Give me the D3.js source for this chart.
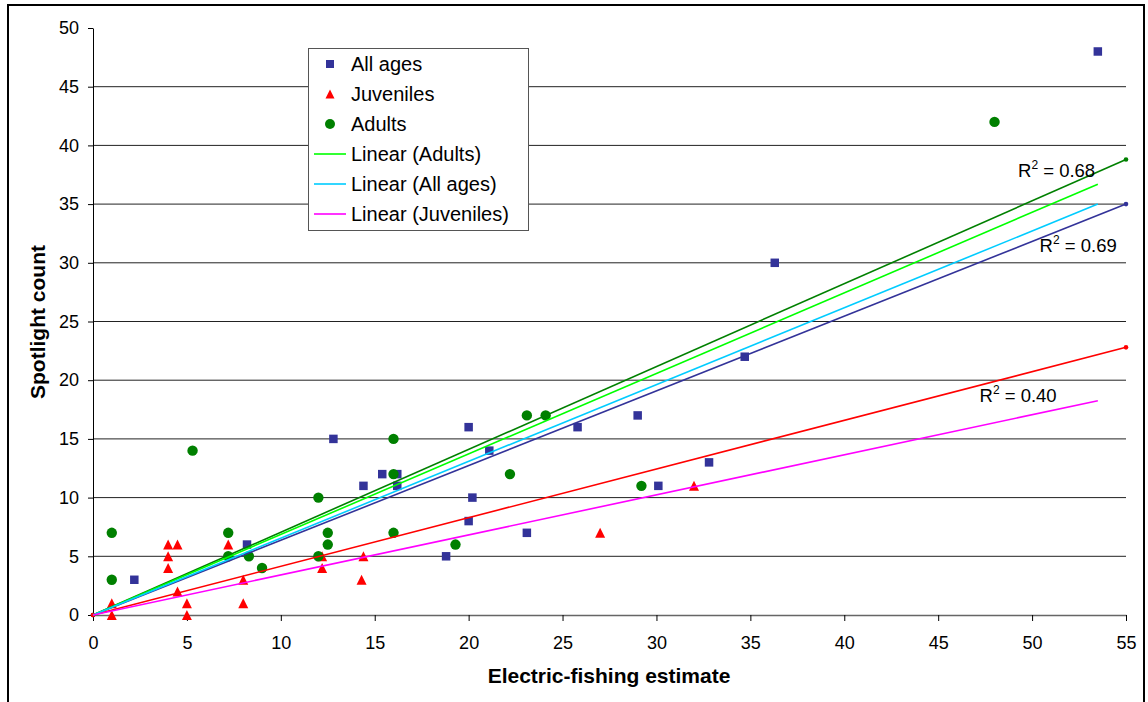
<!DOCTYPE html>
<html>
<head>
<meta charset="utf-8">
<script src="https://cdn.jsdelivr.net/npm/d3@7/dist/d3.min.js"></script>
<style>
  html, body { margin: 0; padding: 0; background: #fff; }
  svg { display: block; font-family: Arial, "Liberation Sans", sans-serif; }
</style>
</head>
<body>
<svg id="chart" width="1148" height="702"></svg>
<script>
// Electric-fishing estimate (x) vs spotlight count (y)
const allAgesX = [2.2, 8.2, 12.8, 14.4, 15.4, 16.2, 16.2, 18.8, 20.0, 20.2, 20.0, 21.1, 23.1, 25.8, 29.0, 30.1, 32.8, 34.7, 36.3, 53.5];
const allAgesY = [3, 6, 15, 11, 12, 12, 11, 5, 16, 10, 8, 14, 7, 16, 17, 11, 13, 22, 30, 48];

const juvenilesX = [1, 1, 4, 4.5, 4, 4, 4.5, 5, 5, 7.2, 8, 8, 12.2, 12.2, 14.4, 14.3, 27, 32];
const juvenilesY = [1, 0, 6, 6, 5, 4, 2, 1, 0, 6, 3, 1, 5, 4, 5, 3, 7, 11];

const adultsX = [1, 1, 5.3, 7.2, 7.2, 8.3, 9.0, 12.0, 12.0, 12.5, 12.5, 16, 16, 16, 19.3, 22.2, 23.1, 24.1, 29.2, 48];
const adultsY = [7, 3, 14, 7, 5, 5, 4, 10, 5, 7, 6, 15, 12, 7, 6, 12, 17, 17, 11, 42];

// Fitted lines, given by their end points [x, y]
const fitAdults = [[0, 0], [55, 38.8]];
const fitAllAges = [[0, 0], [55, 35.0]];
const fitJuveniles = [[0, 0], [55, 22.8]];
const linearAdults = [[0, 0], [53.5, 36.7]];
const linearAllAges = [[0, 0], [53.5, 35.0]];
const linearJuveniles = [[0, 0], [53.5, 18.25]];

const r2Labels = ["0.68", "0.69", "0.40"];
const xTicks = [0, 5, 10, 15, 20, 25, 30, 35, 40, 45, 50, 55];
const yTicks = [0, 5, 10, 15, 20, 25, 30, 35, 40, 45, 50];
const legendLabels = ["All ages", "Juveniles", "Adults", "Linear (Adults)", "Linear (All ages)", "Linear (Juveniles)"];

const svg = d3.select("#chart");
const x = d3.scaleLinear().domain([0, 55]).range([93, 1126]);
const y = d3.scaleLinear().domain([0, 50]).range([615, 28]);

// outer frame
svg.append("rect")
  .attr("x", 8).attr("y", 5).attr("width", 1136).attr("height", 720)
  .attr("fill", "none").attr("stroke", "#000").attr("stroke-width", 2);

// horizontal gridlines
svg.append("g").selectAll("line")
  .data(yTicks.filter(v => v > 0 && v < 50))
  .join("line")
  .attr("x1", x(0)).attr("x2", x(55))
  .attr("y1", d => y(d)).attr("y2", d => y(d))
  .attr("stroke", "#222").attr("stroke-width", 1);

// axes
const xAxis = svg.append("g")
  .attr("transform", `translate(0,${y(0)})`)
  .call(d3.axisBottom(x).tickValues(xTicks).tickSize(6).tickSizeOuter(0).tickPadding(15).tickFormat(d3.format("d")));
xAxis.select(".domain").attr("stroke", "#666").attr("stroke-width", 1.5);
xAxis.selectAll(".tick line").attr("stroke", "#000");
xAxis.selectAll("text").attr("font-size", 18).attr("fill", "#000").attr("font-family", "Arial, 'Liberation Sans', sans-serif");

const yAxis = svg.append("g")
  .attr("transform", `translate(${x(0)},0)`)
  .call(d3.axisLeft(y).tickValues(yTicks).tickSize(5).tickSizeOuter(0).tickPadding(9).tickFormat(d3.format("d")));
yAxis.select(".domain").attr("stroke", "#000").attr("stroke-width", 1);
yAxis.selectAll(".tick line").attr("stroke", "#000");
yAxis.selectAll("text").attr("font-size", 18).attr("fill", "#000").attr("font-family", "Arial, 'Liberation Sans', sans-serif");

// axis titles
svg.append("text")
  .attr("x", 609).attr("y", 683)
  .attr("text-anchor", "middle")
  .attr("font-size", 21).attr("font-weight", "bold")
  .text("Electric-fishing estimate");
svg.append("text")
  .attr("transform", "translate(45,322) rotate(-90)")
  .attr("text-anchor", "middle")
  .attr("font-size", 21).attr("font-weight", "bold")
  .text("Spotlight count");

// marker shapes
const squarePath = (s) => `M${-s / 2},${-s / 2}h${s}v${s}h${-s}Z`;
const trianglePath = (w, h) => `M0,${-h / 2}L${w / 2},${h / 2}L${-w / 2},${h / 2}Z`;

const plot = svg.append("g");

plot.append("g").selectAll("path")
  .data(d3.zip(allAgesX, allAgesY))
  .join("path")
  .attr("transform", d => `translate(${x(d[0])},${y(d[1])})`)
  .attr("d", squarePath(8.5))
  .attr("fill", "#333399");

plot.append("g").selectAll("path")
  .data(d3.zip(juvenilesX, juvenilesY))
  .join("path")
  .attr("transform", d => `translate(${x(d[0])},${y(d[1])})`)
  .attr("d", trianglePath(10, 10))
  .attr("fill", "#ff0000");

plot.append("g").selectAll("circle")
  .data(d3.zip(adultsX, adultsY))
  .join("circle")
  .attr("cx", d => x(d[0])).attr("cy", d => y(d[1]))
  .attr("r", 5.2)
  .attr("fill", "#008000");

// fitted lines
const line = d3.line().x(d => x(d[0])).y(d => y(d[1]));
const fits = [
  { pts: fitAdults, color: "#008000", dots: true },
  { pts: fitAllAges, color: "#333399", dots: true },
  { pts: fitJuveniles, color: "#ff0000", dots: true },
  { pts: linearAdults, color: "#00ff00", dots: false },
  { pts: linearAllAges, color: "#00ccff", dots: false },
  { pts: linearJuveniles, color: "#ff00ff", dots: false }
];
fits.forEach(f => {
  plot.append("path")
    .attr("d", line(f.pts))
    .attr("fill", "none")
    .attr("stroke", f.color)
    .attr("stroke-width", 1.6);
  if (f.dots) {
    plot.append("g").selectAll("circle")
      .data(f.pts)
      .join("circle")
      .attr("cx", d => x(d[0])).attr("cy", d => y(d[1]))
      .attr("r", 2.3)
      .attr("fill", f.color);
  }
});

// R² annotations
const r2Pos = [[49.25, 37.3], [50.4, 30.9], [47.2, 18.13]];
r2Labels.forEach((v, i) => {
  const t = svg.append("text")
    .attr("x", x(r2Pos[i][0])).attr("y", y(r2Pos[i][1]))
    .attr("font-size", 18.5).attr("fill", "#000");
  t.append("tspan").text("R");
  t.append("tspan").attr("font-size", 12).attr("dy", -8).text("2");
  t.append("tspan").attr("dy", 8).text(" = " + v);
});

// legend
const legend = svg.append("g");
legend.append("rect")
  .attr("x", 308.5).attr("y", 48.5).attr("width", 220).attr("height", 182)
  .attr("fill", "#fff").attr("stroke", "#555").attr("stroke-width", 1);
const legendMarks = [
  g => g.append("path").attr("d", squarePath(8)).attr("fill", "#333399"),
  g => g.append("path").attr("d", trianglePath(9, 9)).attr("fill", "#ff0000"),
  g => g.append("circle").attr("r", 5).attr("fill", "#008000"),
  g => g.append("line").attr("x1", -16).attr("x2", 16).attr("stroke", "#00ff00").attr("stroke-width", 1.6),
  g => g.append("line").attr("x1", -16).attr("x2", 16).attr("stroke", "#00ccff").attr("stroke-width", 1.6),
  g => g.append("line").attr("x1", -16).attr("x2", 16).attr("stroke", "#ff00ff").attr("stroke-width", 1.6)
];
legendLabels.forEach((lab, i) => {
  const cy = 64 + i * 30;
  const g = legend.append("g").attr("transform", `translate(330,${cy})`);
  legendMarks[i](g);
  legend.append("text")
    .attr("x", 351).attr("y", cy + 7)
    .attr("font-size", 20).attr("fill", "#000")
    .text(lab);
});
</script>
</body>
</html>
